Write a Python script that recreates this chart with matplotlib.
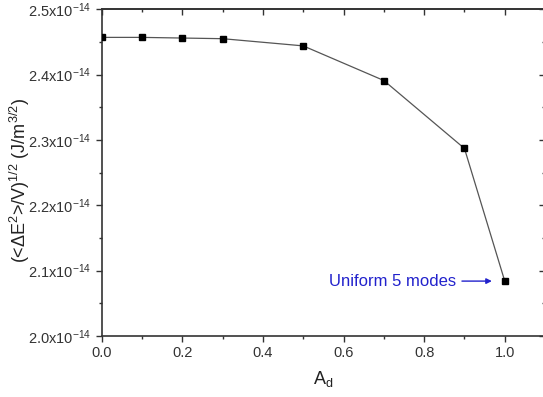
import numpy as np
import matplotlib
matplotlib.use("Agg")
import matplotlib.pyplot as plt
from matplotlib.ticker import FixedLocator, FuncFormatter, NullFormatter

plt.rcParams['font.family'] = ['Liberation Sans', 'DejaVu Sans']
plt.rcParams['mathtext.fontset'] = 'custom'
plt.rcParams['mathtext.rm'] = 'Liberation Sans'
plt.rcParams['mathtext.it'] = 'Liberation Sans:italic'

# rms energy fluctuation vs A_d
a_d = [0.0, 0.1, 0.2, 0.3, 0.5, 0.7, 0.9, 1.0]
e_rms = [2.457e-14, 2.457e-14, 2.456e-14, 2.455e-14, 2.444e-14,
         2.391e-14, 2.287e-14, 2.084e-14]

x_major = [0.0, 0.2, 0.4, 0.6, 0.8, 1.0]
x_minor = [0.1, 0.3, 0.5, 0.7, 0.9, 1.1]
y_major = [2.0e-14, 2.1e-14, 2.2e-14, 2.3e-14, 2.4e-14, 2.5e-14]
y_minor = [2.05e-14, 2.15e-14, 2.25e-14, 2.35e-14, 2.45e-14]

fig = plt.figure(figsize=(5.43, 3.97), dpi=100)
ax = fig.add_axes([0.1873, 0.1537, 0.8165, 0.8229])

ax.plot(a_d, e_rms, color='#555555', lw=0.9, marker='s', ms=5,
        mfc='black', mec='black', zorder=3)

ax.set_xlim(0.0, 1.1)
ax.set_ylim(2.0e-14, 2.5e-14)
ax.xaxis.set_major_locator(FixedLocator(x_major))
ax.xaxis.set_minor_locator(FixedLocator(x_minor))
ax.yaxis.set_major_locator(FixedLocator(y_major))
ax.yaxis.set_minor_locator(FixedLocator(y_minor))
ax.xaxis.set_major_formatter(FuncFormatter(lambda v, p: f"{v:.1f}"))
ax.yaxis.set_major_formatter(
    FuncFormatter(lambda v, p: f"{v * 1e14:.1f}x10$^{{-14}}$"))

for s in ax.spines.values():
    s.set_linewidth(1.2)
    s.set_color('#333333')
ax.spines['right'].set_visible(False)
ax.tick_params(which='both', direction='out', labelsize=10.5,
               colors='#333333', width=1.0)
ax.tick_params(which='major', length=4)
ax.tick_params(which='minor', length=2.5)

# mirrored ticks on top and right, pointing into the frame
top = ax.secondary_xaxis('top')
top.xaxis.set_major_locator(FixedLocator(x_major))
top.xaxis.set_minor_locator(FixedLocator(x_minor))
top.xaxis.set_major_formatter(NullFormatter())
top.tick_params(which='both', direction='in', labeltop=False,
                colors='#333333', width=1.0)
right = ax.secondary_yaxis('right')
right.yaxis.set_major_locator(FixedLocator(y_major))
right.yaxis.set_minor_locator(FixedLocator(y_minor))
right.yaxis.set_major_formatter(NullFormatter())
right.tick_params(which='both', direction='in', labelright=False,
                  colors='#333333', width=1.0)
for sec in (top, right):
    sec.tick_params(which='major', length=4)
    sec.tick_params(which='minor', length=2.5)
    for s in sec.spines.values():
        s.set_linewidth(1.2)
        s.set_color('#333333')
right.spines['right'].set_visible(False)

ax.set_xlabel('A$_\\mathregular{d}$', fontsize=13, color='#222222',
              labelpad=6)
ax.set_ylabel('(<ΔE$^2$>/V)$^{1/2}$ (J/m$^{3/2}$)', fontsize=13,
              color='#222222')
ax.yaxis.set_label_coords(-0.157, 0.477)

ax.annotate('Uniform 5 modes', xy=(0.968, e_rms[-1]),
            xytext=(0.88, e_rms[-1]), ha='right', va='center',
            fontsize=12, color='#2222cc',
            arrowprops=dict(arrowstyle='-|>', color='#2222cc', lw=1.0,
                            mutation_scale=8, shrinkA=2, shrinkB=0))

fig.savefig('out.png', dpi=100)
